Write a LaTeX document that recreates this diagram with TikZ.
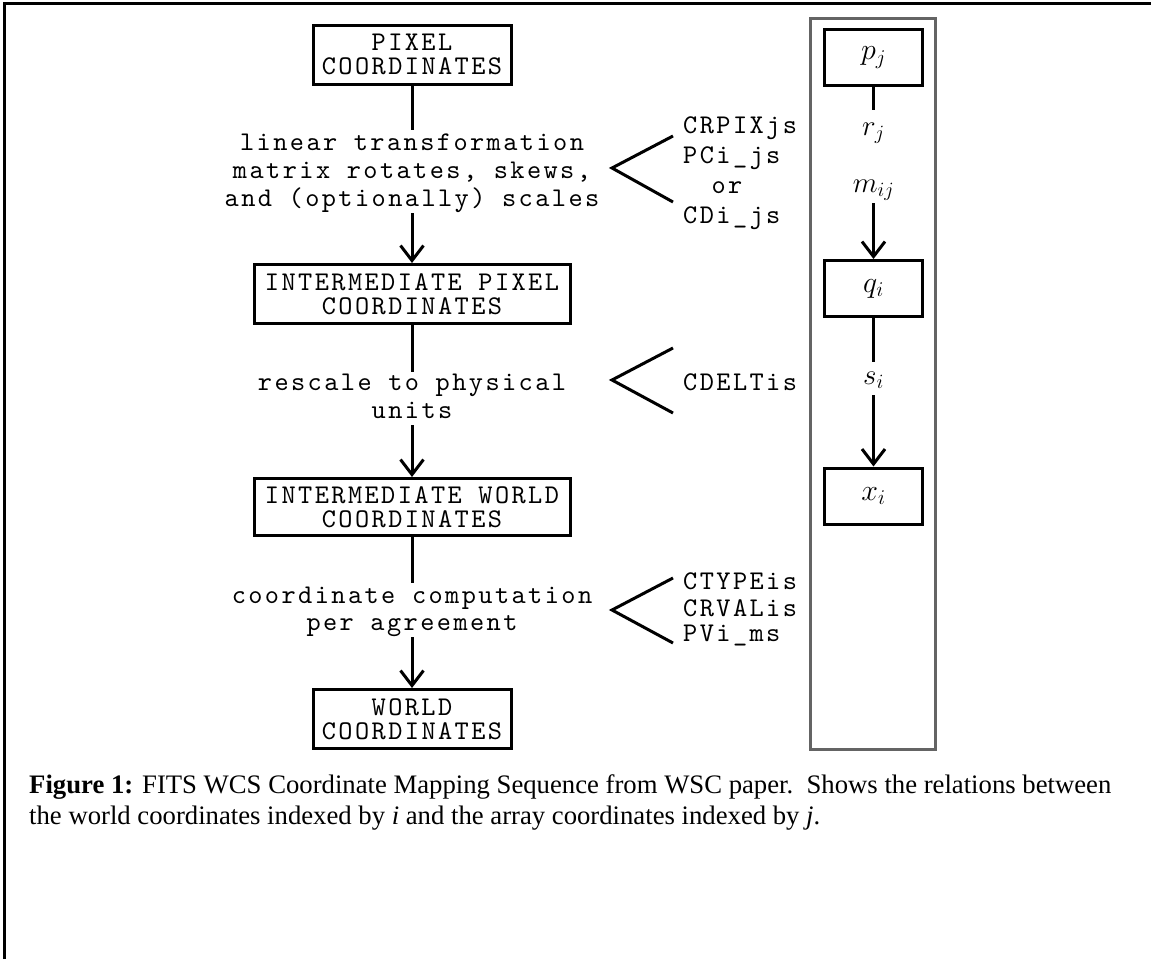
\RequirePackage{fix-cm}
\documentclass[tikz,border=0pt]{standalone}
\usepackage{fontspec}
\newfontfamily\monof[LetterSpace=9]{lmmono10-regular.otf}
\newfontfamily\capf{Liberation Serif}
\usetikzlibrary{arrows.meta}
\definecolor{colframe}{RGB}{100,100,100}
\begin{document}
\begin{tikzpicture}[x=1pt,y=-1pt,
  box/.style={draw, line width=3pt, inner sep=0pt, align=center,
    font={\monof\fontsize{27}{24.5}\selectfont}},
  mbox/.style={draw, line width=3pt, inner sep=0pt, minimum width=98pt, minimum height=56pt,
    font={\fontsize{30}{32}\selectfont}},
  txt/.style={inner sep=0pt, anchor=base, font={\monof\fontsize{27}{28}\selectfont}},
  rtxt/.style={inner sep=0pt, anchor=base west, font={\monof\fontsize{27}{28}\selectfont}},
  mlab/.style={inner sep=0pt, anchor=base, font={\fontsize{29}{32}\selectfont}},
  captext/.style={inner sep=0pt, anchor=base west, font={\capf\fontsize{26.7}{31}\selectfont}},
  conn/.style={line width=3pt},
  arr/.style={line width=3pt, -{Straight Barb[length=15pt,width=23pt]}},
  brk/.style={line width=3pt, line join=miter},
]
\useasboundingbox (0,0) rectangle (1151,959);
% page frame (left and top edges)
\draw[line width=3pt] (4.5,959) -- (4.5,3.5) -- (1151,3.5);

% ---------- left column ----------
\node[box, minimum width=198pt, minimum height=59pt] (pix) at (412,54.5) {PIXEL\\COORDINATES};
\node[box, minimum width=316pt, minimum height=59pt] (ipc) at (412,294) {INTERMEDIATE PIXEL\\COORDINATES};
\node[box, minimum width=316pt, minimum height=57pt] (iwc) at (412,507) {INTERMEDIATE WORLD\\COORDINATES};
\node[box, minimum width=198pt, minimum height=59pt] (wc) at (412,719) {WORLD\\COORDINATES};

\node[txt] (t1a) at (412,150) {linear transformation};
\node[txt] (t1b) at (412,178) {matrix rotates, skews,};
\node[txt] (t1c) at (412,206) {and (optionally) scales};
\node[txt] (t2a) at (412,390) {rescale to physical};
\node[txt] (t2b) at (412,418) {units};
\node[txt] (t3a) at (412,603) {coordinate computation};
\node[txt] (t3b) at (412,630) {per agreement};

\coordinate (c1) at (412,130);
\coordinate (c2) at (412,213);
\coordinate (c3) at (412,372);
\coordinate (c4) at (412,425);
\coordinate (c5) at (412,583);
\coordinate (c6) at (412,637);
\draw[conn] (pix.south) -- (c1);
\draw[arr] (c2) -- (ipc.north);
\draw[conn] (ipc.south) -- (c3);
\draw[arr] (c4) -- (iwc.north);
\draw[conn] (iwc.south) -- (c5);
\draw[arr] (c6) -- (wc.north);

% ---------- keyword lists ----------
\draw[brk] (673,136) -- (612,168) -- (673,202);
\draw[brk] (673,348) -- (612,380) -- (673,413);
\draw[brk] (673,578) -- (612,610) -- (673,643);

\node[rtxt] (k1) at (683,133) {CRPIXjs};
\node[rtxt] (k2) at (683,163) {PCi\_js};
\node[txt]  (k3) at (727,193) {or};
\node[rtxt] (k4) at (683,223) {CDi\_js};
\node[rtxt] (k5) at (683,390) {CDELTis};
\node[rtxt] (k6) at (683,589) {CTYPEis};
\node[rtxt] (k7) at (683,616) {CRVALis};
\node[rtxt] (k8) at (683,641) {PVi\_ms};

% ---------- right column ----------
\node[draw=colframe, line width=3pt, minimum width=125pt, minimum height=731pt, inner sep=0pt] (col) at (873,384) {};
\node[mbox] (pj) at (873.5,57.5) {$p_j$};
\node[mbox] (qi) at (873.5,288.5) {$q_i$};
\node[mbox] (xi) at (873.5,496) {$x_i$};
\node[mlab] (rj) at (873.5,135) {$r_j$};
\node[mlab] (mij) at (873.5,192) {$m_{ij}$};
\node[mlab] (si) at (873.5,384) {$s_i$};

\coordinate (d1) at (873.5,110);
\coordinate (d2) at (873.5,203);
\coordinate (d3) at (873.5,362);
\coordinate (d4) at (873.5,395);
\draw[conn] (pj.south) -- (d1);
\draw[arr] (d2) -- (qi.north);
\draw[conn] (qi.south) -- (d3);
\draw[arr] (d4) -- (xi.north);

% ---------- caption ----------
\node[captext] (cap1) at (29,793) {{\bfseries Figure 1:} FITS WCS Coordinate Mapping Sequence from WSC paper.\ \ Shows the relations between};
\node[captext] (cap2) at (29,824) {the world coordinates indexed by \textit{i} and the array coordinates indexed by \textit{j}.};
\end{tikzpicture}
\end{document}
